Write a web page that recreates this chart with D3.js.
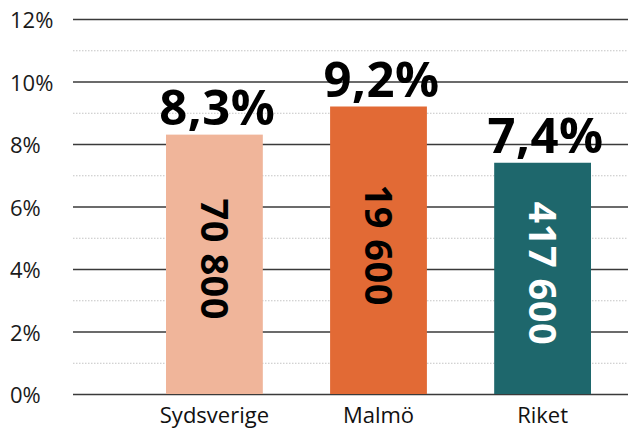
<!DOCTYPE html>
<html>
<head>
<meta charset="utf-8">
<script src="https://cdn.jsdelivr.net/npm/d3@7"></script>
<style>
  html, body { margin: 0; padding: 0; background: #fff; }
  svg { display: block; font-family: "Open Sans", sans-serif; }
</style>
</head>
<body>
<svg id="chart" width="628" height="428"></svg>
<script>
const categories = ["Sydsverige", "Malmö", "Riket"];
const shares = [8.3, 9.2, 7.4];
const shareLabels = ["8,3%", "9,2%", "7,4%"];
const counts = ["70 800", "19 600", "417 600"];
const yTicks = [0, 2, 4, 6, 8, 10, 12];
const yTickLabels = ["0%", "2%", "4%", "6%", "8%", "10%", "12%"];
const yMinorTicks = [1, 3, 5, 7, 9, 11];

const barColors = ["#F0B59A", "#E26A35", "#1E676C"];
const countColors = ["#000000", "#000000", "#FFFFFF"];

const svg = d3.select("#chart");
const gridLeft = 73, gridRight = 628;

const y = d3.scaleLinear().domain([0, 12]).range([394, 19]);
const x = d3.scaleBand().domain(categories).range([166, 591])
  .paddingInner(0.41).paddingOuter(0);

// minor dotted gridlines
svg.append("g")
  .selectAll("line").data(yMinorTicks).join("line")
  .attr("x1", gridLeft).attr("x2", gridRight)
  .attr("y1", d => y(d) + 0.5).attr("y2", d => y(d) + 0.5)
  .attr("stroke", "#c4c4c4").attr("stroke-width", 1)
  .attr("stroke-dasharray", "1.5,1.5");

// major gridlines
const grid = svg.append("g")
  .attr("transform", `translate(${gridLeft},0)`)
  .call(d3.axisRight(y).tickValues(yTicks).tickSize(gridRight - gridLeft).tickFormat(""));
grid.select(".domain").remove();
grid.selectAll(".tick line").attr("stroke", "#3a3a3a").attr("stroke-width", 1.5);

// y tick labels (left aligned)
const yAxis = svg.append("g")
  .attr("transform", "translate(10,0)")
  .call(d3.axisRight(y).tickValues(yTicks).tickSize(0).tickPadding(0)
    .tickFormat((d, i) => yTickLabels[i]));
yAxis.select(".domain").remove();
yAxis.selectAll("text")
  .attr("font-family", "'Open Sans', sans-serif")
  .attr("font-size", 22).attr("fill", "#1a1a1a").attr("dy", "0.4em");

// bars
svg.append("g").selectAll("rect").data(categories).join("rect")
  .attr("x", d => x(d))
  .attr("width", x.bandwidth())
  .attr("y", (d, i) => y(shares[i]))
  .attr("height", (d, i) => y(0) - y(shares[i]))
  .attr("fill", (d, i) => barColors[i]);

// value labels above bars
svg.append("g").selectAll("text").data(categories).join("text")
  .attr("x", d => x(d) + x.bandwidth() / 2 + 3)
  .attr("y", (d, i) => y(shares[i]) - 10)
  .attr("text-anchor", "middle")
  .attr("font-family", "'Open Sans', sans-serif")
  .attr("font-weight", 700)
  .attr("font-size", 49)
  .attr("letter-spacing", 0.5)
  .attr("fill", "#000")
  .text((d, i) => shareLabels[i]);

// count labels inside bars (rotated)
svg.append("g").selectAll("text").data(categories).join("text")
  .attr("transform", (d, i) => {
    const cx = x(d) + x.bandwidth() / 2;
    const cy = (y(shares[i]) + y(0)) / 2 - 5;
    return `translate(${cx},${cy}) rotate(90)`;
  })
  .attr("text-anchor", "middle")
  .attr("dy", "0.36em")
  .attr("font-family", "'Open Sans', sans-serif")
  .attr("font-weight", 700)
  .attr("font-size", 38)
  .attr("letter-spacing", 0.5)
  .attr("fill", (d, i) => countColors[i])
  .text((d, i) => counts[i]);

// x axis category labels
const xAxis = svg.append("g")
  .attr("transform", `translate(0,${y(0)})`)
  .call(d3.axisBottom(x).tickSize(0).tickPadding(13));
xAxis.select(".domain").remove();
xAxis.selectAll("text")
  .attr("font-family", "'Open Sans', sans-serif")
  .attr("font-size", 22).attr("fill", "#111");
</script>
</body>
</html>
